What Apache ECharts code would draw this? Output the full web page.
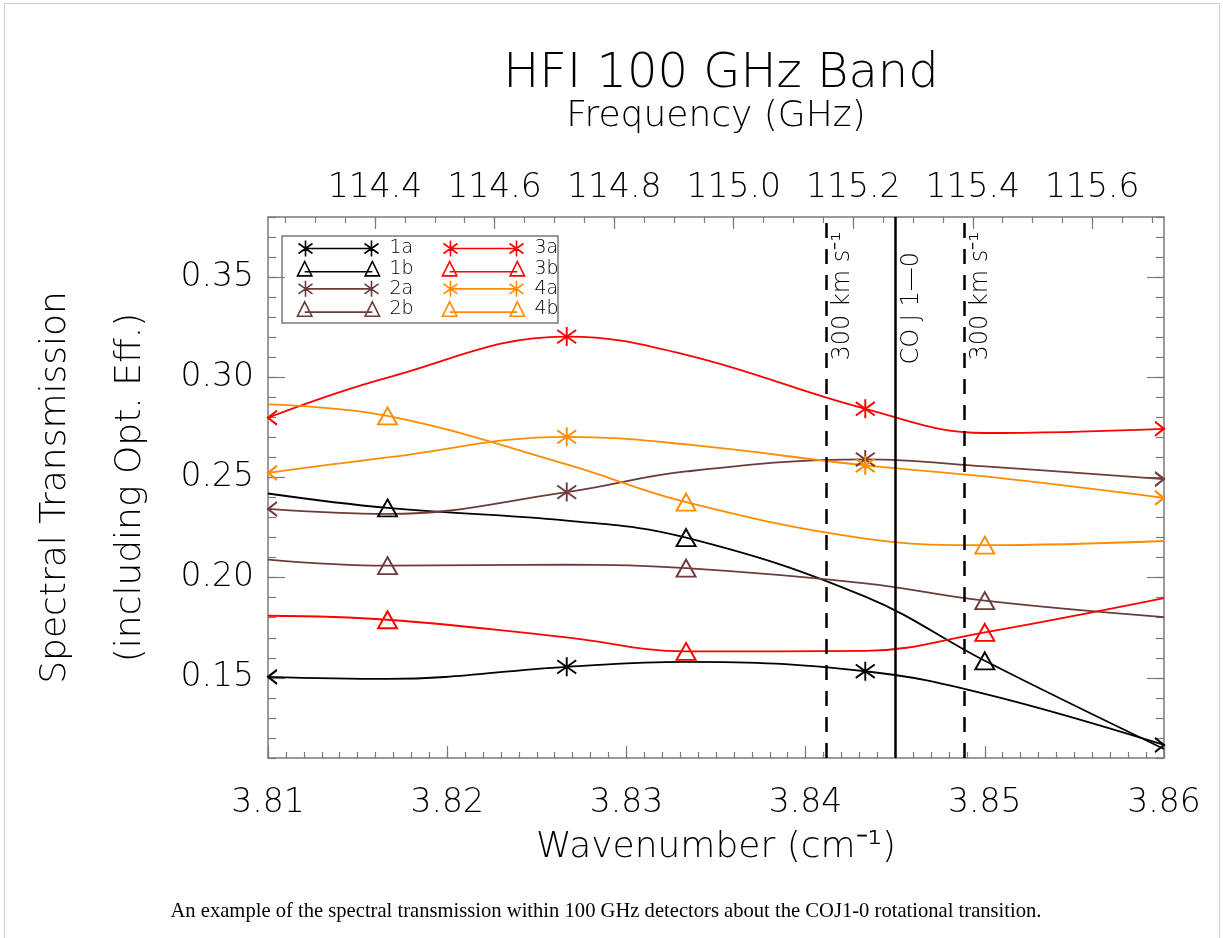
<!DOCTYPE html>
<html>
<head>
<meta charset="utf-8">
<script src="https://cdn.jsdelivr.net/npm/echarts@6/dist/echarts.min.js"></script>
<style>
html,body{margin:0;padding:0;background:#fff;}
#chart{width:1223px;height:938px;}
</style>
</head>
<body>
<div id="chart"></div>
<script>
// ---------- data ----------
const wavenumbers = [3.81, 3.81667, 3.82667, 3.83333, 3.84333, 3.85, 3.86];
const starIdx = [0, 2, 4, 6];   // points drawn with asterisks (a detectors)
const triIdx = [1, 3, 5];       // points drawn with triangles (b detectors)

const t1a = [0.1505, 0.1495, 0.1555, 0.1580, 0.1533, 0.1420, 0.1165];
const t1b = [0.2420, 0.2348, 0.2285, 0.2200, 0.1905, 0.1585, 0.1145];
const t2a = [0.2343, 0.2318, 0.2427, 0.2530, 0.2590, 0.2555, 0.2492];
const t2b = [0.2090, 0.2060, 0.2065, 0.2048, 0.1972, 0.1885, 0.1803];
const t3a = [0.2798, 0.2998, 0.3203, 0.3112, 0.2843, 0.2722, 0.2743];
const t3b = [0.1810, 0.1790, 0.1702, 0.1632, 0.1635, 0.1727, 0.1898];
const t4a = [0.2523, 0.2600, 0.2703, 0.2665, 0.2560, 0.2505, 0.2398];
const t4b = [0.2865, 0.2807, 0.2565, 0.2377, 0.2195, 0.2162, 0.2183];

const seriesNames = ['1a', '1b', '2a', '2b', '3a', '3b', '4a', '4b'];
const seriesValues = [t1a, t1b, t2a, t2b, t3a, t3b, t4a, t4b];
const seriesColors = ['#000000', '#000000', '#6e3b3b', '#6e3b3b', '#ff0000', '#ff0000', '#ff8c00', '#ff8c00'];
const seriesMarker = ['star', 'tri', 'star', 'tri', 'star', 'tri', 'star', 'tri'];

const waveTicks = [3.81, 3.82, 3.83, 3.84, 3.85, 3.86];
const yTicks = [0.15, 0.20, 0.25, 0.30, 0.35];
const freqTicks = [114.4, 114.6, 114.8, 115.0, 115.2, 115.4, 115.6];

// CO J1-0 line and +-300 km/s
const refLineX = [3.84118, 3.84503, 3.84888];
const refLineLabel = ['300 km s\u207B\u00B9', 'CO J 1\u20140', '300 km s\u207B\u00B9'];
const refLineDashed = [true, false, true];

const xMin = 3.81, xMax = 3.86, yMin = 0.11, yMax = 0.38;
const C_GHZ = 29.9792458; // GHz per cm^-1
const fMin = xMin * C_GHZ, fMax = xMax * C_GHZ;

// ---------- styling helpers ----------
const FONT = 'DejaVu Sans';
const axisGray = '#7a7a7a';
const STAR = 'path://M10 0 L10 20 M0 3 L20 17 M0 17 L20 3';
const STAR_L = 'path://M10 0 L0 7 L10 14';   // right half (clipped at left edge)
const STAR_R = 'path://M0 0 L10 7 L0 14';    // left half (clipped at right edge)
const LEG_STAR = 'path://M8 0 L8 16 M1 3 L15 13 M1 13 L15 3 M8 8 L74 8 M74 0 L74 16 M67 3 L81 13 M67 13 L81 3';
const LEG_TRI = 'path://M1 15 L8 1 L15 15 Z M8 11 L74 11 M67 15 L74 1 L81 15 Z';

const freqMinor = [];
for (let k = Math.ceil(fMin / 0.05); k * 0.05 <= fMax; k++) freqMinor.push(+(k * 0.05).toFixed(2));

function buildData(vals, marker) {
  const last = vals.length - 1;
  return vals.map((v, i) => {
    const item = { value: [wavenumbers[i], v] };
    if (marker === 'star' && starIdx.includes(i)) {
      if (i === 0) { item.symbol = STAR_L; item.symbolSize = [9, 14]; item.symbolOffset = [4.5, 0]; }
      else if (i === last) { item.symbol = STAR_R; item.symbolSize = [9, 14]; item.symbolOffset = [-4.5, 0]; }
      else { item.symbol = STAR; item.symbolSize = [19, 19]; }
    } else if (marker === 'tri' && triIdx.includes(i)) {
      item.symbol = 'triangle'; item.symbolSize = [19, 17];
    } else {
      item.symbol = 'none';
    }
    return item;
  });
}

const series = seriesNames.map((name, s) => ({
  name: name,
  type: 'line',
  xAxisIndex: 0, yAxisIndex: 0,
  smooth: 0.4,
  data: buildData(seriesValues[s], seriesMarker[s]),
  lineStyle: { color: seriesColors[s], width: 1.8 },
  itemStyle: { color: 'none', borderColor: seriesColors[s], borderWidth: 1.9 },
  emphasis: { disabled: true },
  z: 3
}));

series.push({
  name: 'ref',
  type: 'line',
  xAxisIndex: 0, yAxisIndex: 0,
  data: [],
  markLine: {
    silent: true,
    precision: 6,
    symbol: ['none', 'none'],
    animation: false,
    data: refLineX.map((x, i) => ({
      xAxis: x,
      name: refLineLabel[i],
      lineStyle: { color: '#000', width: 2.5, type: refLineDashed[i] ? [15, 11] : 'solid' },
      label: {
        show: true,
        position: 'insideEndBottom',
        formatter: '{b}',
        distance: refLineDashed[i] ? [15, 4] : [35, 4],
        color: '#000',
        fontFamily: FONT,
        fontWeight: 300,
        fontSize: 24
      }
    }))
  },
  z: 4
});

const legendItem = (name, s) => ({
  name: name,
  icon: seriesMarker[s] === 'star' ? LEG_STAR : LEG_TRI,
  itemStyle: { color: 'none', borderColor: seriesColors[s], borderWidth: 1.6 }
});

const tickFont = { fontFamily: FONT, fontWeight: 300, fontSize: 33, color: '#000' };
const nameFont = { fontFamily: FONT, fontWeight: 300, fontSize: 36, color: '#000' };
const legendText = { fontFamily: FONT, fontWeight: 300, fontSize: 19, lineHeight: 16, color: '#000', padding: [0, 0, 0, 5] };

const option = {
  animation: false,
  backgroundColor: '#fff',
  title: [
    { text: 'HFI 100 GHz Band', left: 716, top: 46, textAlign: 'center',
      textStyle: { fontFamily: FONT, fontWeight: 300, fontSize: 48, color: '#000' } },
    { text: 'An example of the spectral transmission within 100 GHz detectors about the COJ1-0 rotational transition.',
      left: 601, top: 896, textAlign: 'center',
      textStyle: { fontFamily: 'Liberation Serif', fontWeight: 'normal', fontSize: 20.6, color: '#000' } }
  ],
  grid: { left: 268, right: 59, top: 217, bottom: 180 },
  legend: [
    { orient: 'vertical', left: 295, top: 238, padding: 0, itemWidth: 82, itemHeight: 16, itemGap: 0,
      selectedMode: false, data: seriesNames.slice(0, 4).map((n, i) => legendItem(n, i)),
      textStyle: legendText },
    { orient: 'vertical', left: 440, top: 238, padding: 0, itemWidth: 82, itemHeight: 16, itemGap: 0,
      selectedMode: false, data: seriesNames.slice(4, 8).map((n, i) => legendItem(n, i + 4)),
      textStyle: legendText }
  ],
  xAxis: [
    { type: 'value', position: 'bottom', min: xMin, max: xMax, interval: 0.001,
      axisLine: { show: true, onZero: false, lineStyle: { color: axisGray, width: 1.5 } },
      axisTick: { show: true, inside: true, length: 6, lineStyle: { color: axisGray, width: 1.2 } },
      axisLabel: { show: false }, splitLine: { show: false } },
    { type: 'value', position: 'bottom', min: xMin, max: xMax,
      axisLine: { show: false, onZero: false },
      axisTick: { show: true, inside: true, length: 12, customValues: waveTicks, lineStyle: { color: axisGray, width: 1.2 } },
      axisLabel: Object.assign({ show: true, customValues: waveTicks, margin: 29,
        formatter: v => v.toFixed(2) }, tickFont),
      splitLine: { show: false },
      name: 'Wavenumber (cm\u207B\u00B9)', nameLocation: 'middle', nameGap: 72, nameTextStyle: nameFont },
    { type: 'value', position: 'top', min: fMin, max: fMax,
      axisLine: { show: true, onZero: false, lineStyle: { color: axisGray, width: 1.5 } },
      axisTick: { show: true, inside: true, length: 6, customValues: freqMinor, lineStyle: { color: axisGray, width: 1.2 } },
      axisLabel: { show: false }, splitLine: { show: false } },
    { type: 'value', position: 'top', min: fMin, max: fMax,
      axisLine: { show: false, onZero: false },
      axisTick: { show: true, inside: true, length: 12, customValues: freqTicks, lineStyle: { color: axisGray, width: 1.2 } },
      axisLabel: Object.assign({ show: true, customValues: freqTicks, margin: 12,
        formatter: v => v.toFixed(1) }, tickFont),
      splitLine: { show: false },
      name: 'Frequency (GHz)', nameLocation: 'middle', nameGap: 82, nameTextStyle: nameFont }
  ],
  yAxis: [
    { type: 'value', position: 'left', min: yMin, max: yMax, interval: 0.01,
      axisLine: { show: true, onZero: false, lineStyle: { color: axisGray, width: 1.5 } },
      axisTick: { show: true, inside: true, length: 8, lineStyle: { color: axisGray, width: 1.2 } },
      axisLabel: { show: false }, splitLine: { show: false },
      name: 'Spectral Transmission', nameLocation: 'middle', nameGap: 194, nameRotate: 90, nameTextStyle: nameFont },
    { type: 'value', position: 'left', min: yMin, max: yMax,
      axisLine: { show: false, onZero: false },
      axisTick: { show: true, inside: true, length: 17, customValues: yTicks, lineStyle: { color: axisGray, width: 1.2 } },
      axisLabel: Object.assign({ show: true, customValues: yTicks, margin: 14,
        formatter: v => v.toFixed(2) }, tickFont),
      splitLine: { show: false },
      name: '(including Opt. Eff.)', nameLocation: 'middle', nameGap: 119, nameRotate: 90, nameTextStyle: nameFont },
    { type: 'value', position: 'right', min: yMin, max: yMax, interval: 0.01,
      axisLine: { show: true, onZero: false, lineStyle: { color: axisGray, width: 1.5 } },
      axisTick: { show: true, inside: true, length: 8, lineStyle: { color: axisGray, width: 1.2 } },
      axisLabel: { show: false }, splitLine: { show: false } },
    { type: 'value', position: 'right', min: yMin, max: yMax,
      axisLine: { show: false, onZero: false },
      axisTick: { show: true, inside: true, length: 17, customValues: yTicks, lineStyle: { color: axisGray, width: 1.2 } },
      axisLabel: { show: false }, splitLine: { show: false } }
  ],
  graphic: [
    { type: 'rect', shape: { x: 4.5, y: 3.5, width: 1215, height: 960 },
      style: { fill: 'none', stroke: '#cfcfcf', lineWidth: 1 }, silent: true, z: -1 },
    { type: 'rect', shape: { x: 282, y: 236, width: 276, height: 87 },
      style: { fill: 'none', stroke: axisGray, lineWidth: 1.5 }, silent: true, z: 5 }
  ],
  series: series
};

const chart = echarts.init(document.getElementById('chart'), null, { renderer: 'canvas' });
chart.setOption(option);
</script>
</body>
</html>
